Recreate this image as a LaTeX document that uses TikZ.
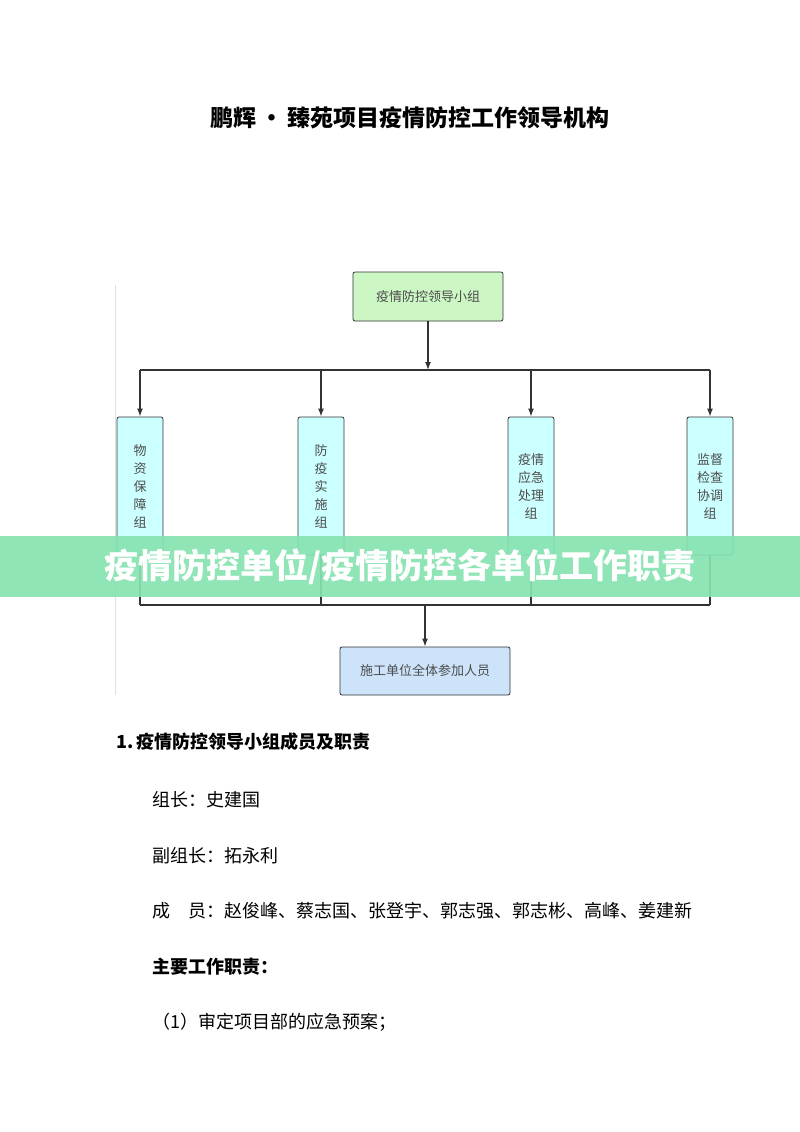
\documentclass[tikz,border=0pt]{standalone}
\usepackage{fontspec}
\setmainfont{Noto Sans CJK SC}
\usetikzlibrary{positioning,arrows.meta}
\definecolor{lead_green}{HTML}{CCF7C4}
\definecolor{group_cyan}{HTML}{CCFFFF}
\definecolor{staff_blue}{HTML}{CCE3FA}
\definecolor{banner_green}{HTML}{86E3B0}
\tikzset{
  box/.style={draw=black!80, thick, rounded corners=2pt, align=center, text=black!70, font=\fontsize{13}{18}\selectfont},
  group/.style={box, fill=group_cyan, minimum width=46pt, minimum height=138pt},
  link/.style={draw=black!80, line width=1.3pt},
  arr/.style={link, -{Latex[length=8pt, width=6pt]}},
  body/.style={anchor=west, font=\fontsize{18}{21}\selectfont}
}
\begin{document}
\begin{tikzpicture}[x=1pt, y=-1pt]
  \useasboundingbox (0,0) rectangle (800,1132);

  \node[font=\bfseries\fontsize{23}{26}\selectfont] (title) at (410,118) {鹏辉\,•\,臻苑项目疫情防控工作领导机构};

  \draw[black!12] (115,285) -- (115,695);

  \node[box, fill=lead_green, minimum width=150pt, minimum height=49pt] (lead) at (428,296.5) {疫情防控领导小组};
  \node[group] (supply) at (140,486) {物\\资\\保\\障\\组};
  \node[group] (prevent) at (321,486) {防\\疫\\实\\施\\组};
  \node[group] (emerg) at (531,486) {疫情\\应急\\处理\\组};
  \node[group] (superv) at (710,486) {监督\\检查\\协调\\组};
  \node[box, fill=staff_blue, minimum width=170pt, minimum height=48pt] (staff) at (425,671) {施工单位全体参加人员};

  % upper bus
  \coordinate (topbus) at (428,370);
  \draw[arr] (lead.south) -- (topbus);
  \draw[link] (supply.north |- topbus) -- (superv.north |- topbus);
  \foreach \g in {supply,prevent,emerg,superv}
    \draw[arr] (\g.north |- topbus) -- (\g.north);

  % lower bus
  \coordinate (lowbus) at (425,605);
  \draw[link] (supply.south |- lowbus) -- (superv.south |- lowbus);
  \foreach \g in {supply,prevent,emerg,superv}
    \draw[link] (\g.south) -- (\g.south |- lowbus);
  \draw[arr] (lowbus) -- (staff.north);

  % banner
  \fill[banner_green, fill opacity=0.92] (0,536) rectangle (800,597);
  \node[text=white, font=\bfseries\fontsize{34}{36}\selectfont, anchor=west] (banner) at (101,567) {疫情防控单位/疫情防控各单位工作职责};

  \node[body, font=\bfseries\fontsize{18}{21}\selectfont] (sec) at (113,742) {1.\,疫情防控领导小组成员及职责};
  \node[body] (head) at (149,800) {组长：史建国};
  \node[body] (vice) at (149,856) {副组长：拓永利};
  \node[body] (memb) at (149,911) {成\quad 员：赵俊峰、蔡志国、张登宇、郭志强、郭志彬、高峰、姜建新};
  \node[body, font=\bfseries\fontsize{18}{21}\selectfont] (duty) at (149,967) {主要工作职责：};
  \node[body] (item) at (149,1022) {（1）审定项目部的应急预案；};
\end{tikzpicture}
\end{document}
